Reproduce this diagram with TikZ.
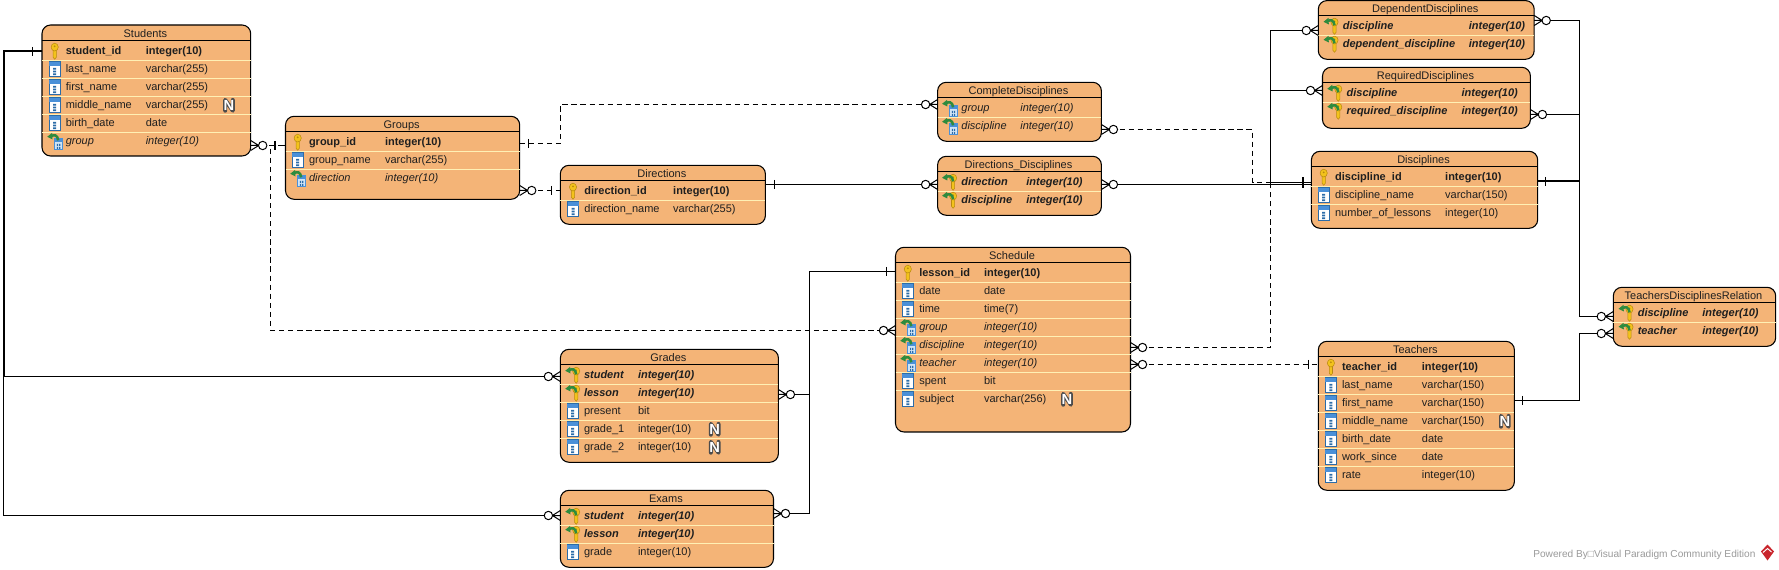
\documentclass[tikz,border=0pt]{standalone}
\usepackage{fontspec}
\setmainfont{Liberation Sans}
\usetikzlibrary{calc}
\definecolor{tfill}{HTML}{F4B477}
\definecolor{tsep}{HTML}{FFF0B4}
\definecolor{keyy}{HTML}{F3C21C}
\definecolor{keydk}{HTML}{B98A10}
\definecolor{colblue}{HTML}{4A90D8}
\definecolor{coldk}{HTML}{2C6CA8}
\definecolor{fkgreen}{HTML}{2E8B3E}
\definecolor{bldg}{HTML}{CFE4F6}
\definecolor{foot}{HTML}{9A9A9A}
\definecolor{logored}{HTML}{C9252C}
\tikzset{
  tbox/.style={draw=black,fill=tfill,line width=.8pt,rounded corners=6.5pt,inner sep=0pt,outer sep=0pt},
  ttext/.style={inner sep=0pt,outer sep=0pt,font=\fontsize{8.25}{10}\selectfont,text=black!88},
  sepline/.style={draw=tsep,line width=.75pt},
  headline/.style={draw=black,line width=.75pt},
  conn/.style={draw=black,line width=.75pt},
  heavy/.style={draw=black,line width=1.5pt},
  dashconn/.style={draw=black,line width=.75pt,dash pattern=on 4pt off 2.8pt},
}
\newcommand\stpk{\bfseries}
\newcommand\stcol{}
\newcommand\stfk{\itshape}
\newcommand\stpfk{\bfseries\itshape}
\newcommand\keyshape{%
  \draw[keydk,fill=keyy,line width=.4pt] (-1.6,-2) -- (-1.6,6) -- (0,8) -- (1.6,6) -- (1.6,-2) -- cycle;
  \draw[keydk,fill=keyy,line width=.4pt] (0,-4.2) ellipse[x radius=3.6,y radius=3.9];
  \fill[keydk] (0,-5) circle[radius=1];
}
\newcommand\greenarrow{%
  \draw[fkgreen,line width=1.9pt] (3.5,-1) .. controls (3,-6.5) and (-1,-7) .. (-3.5,-5);
  \fill[fkgreen] (-7.5,-4.5) -- (-2.5,-8.5) -- (-2.2,-1.8) -- cycle;
}
\newcommand\iconpk[2]{\begin{scope}[shift={(#1,#2)}]\keyshape\end{scope}}
\newcommand\iconcol[2]{\begin{scope}[shift={(#1,#2)}]
  \draw[coldk,fill=white,line width=.5pt] (-5.5,-7.5) rectangle (5.5,7.5);
  \fill[colblue] (-5.5,-7.5) rectangle (5.5,-3.2);
  \fill[coldk] (-1.5,-1.5) rectangle (1.5,.3) (-1.5,1.3) rectangle (1.5,3) (-1.5,4) rectangle (1.5,5.8);
\end{scope}}
\newcommand\iconfk[2]{\begin{scope}[shift={(#1,#2)}]
  \draw[colblue,fill=bldg,line width=.5pt] (-.4,-2.5) rectangle (7.8,8.5);
  \fill[colblue] (-.4,-2.5) rectangle (7.8,.5);
  \fill[coldk] (2.2,2.5) rectangle (3.4,4.5) (4.4,2.5) rectangle (5.6,4.5) (2.2,5.5) rectangle (3.4,7.5) (4.4,5.5) rectangle (5.6,7.5);
  \greenarrow
\end{scope}}
\newcommand\iconpfk[2]{\begin{scope}[shift={(#1,#2)}]
  \begin{scope}[shift={(3.5,0)}]\keyshape\end{scope}
  \greenarrow
\end{scope}}
% #1 name, #2 title, #3 x1, #4 y1, #5 x2, #6 y2, #7 header line y
\newcommand\tbl[7]{%
  \pgfmathsetmacro\tw{(#5-#3)*.75}\pgfmathsetmacro\th{(#6-#4)*.75}
  \node[tbox,minimum width=\tw pt,minimum height=\th pt] (#1) at ({(#3+#5)/2},{(#4+#6)/2}) {};
  \draw[headline] (#1.west |- 0,#7) -- (#1.east |- 0,#7);
  \node[ttext,anchor=base] (#1-title) at ({(#3+#5)/2-1},#7-3.2) {#2};
}
% #1 table, #2 icon x, #3 name x, #4 type x, #5 first row y, #6 rows
\newcommand\rows[6]{%
  \foreach \ic/\nm/\ty [count=\i] in {#6} {
    \pgfmathsetmacro\ry{#5+18*(\i-1)}
    \ifnum\i>1 \draw[sepline] (#1.west |- 0,\ry-9) -- (#1.east |- 0,\ry-9);\fi
    \csname icon\ic\endcsname{#2}{\ry}
    \node[ttext,anchor=base west,font=\fontsize{8.25}{10}\selectfont\csname st\ic\endcsname] (#1-n\i) at (#3,\ry+3.4) {\nm};
    \node[ttext,anchor=base west,font=\fontsize{8.25}{10}\selectfont\csname st\ic\endcsname] (#1-t\i) at (#4,\ry+3.4) {\ty};
  }%
}
% #1 node name, #2 x, #3 y
\newcommand\nullmark[3]{%
  \begin{scope}[shift={(#2,#3)}]
  \draw[black!70,line width=3pt,line cap=round,line join=round] (-3.8,5.4) -- (-3.8,-5.4) -- (3.8,5.4) -- (3.8,-5.4);
  \end{scope}
  \node[ttext,font=\fontsize{11}{12}\selectfont\bfseries,text=white] (#1) at (#2,#3) {N};
}
% crow's foot with ring: #1 point on the table edge, #2 direction +1/-1
\newcommand\crow[2]{%
  \draw[conn] ($(#1)+(#2*8,0)$) -- ($(#1)+(0,-5)$) ($(#1)+(#2*8,0)$) -- (#1) ($(#1)+(#2*8,0)$) -- ($(#1)+(0,5)$);
  \draw[conn,fill=white] ($(#1)+(#2*12,0)$) circle[radius=4.2];
}
% bar: #1 point on the table edge, #2 signed distance
\newcommand\onebar[2]{\draw[conn] ($(#1)+(#2,-4.6)$) -- ($(#1)+(#2,4.6)$);}
\begin{document}
\begin{tikzpicture}[x=.75pt,y=-.75pt]
\useasboundingbox (0,0) rectangle (1779,570);
\fill[white] (0,0) rectangle (1779,570);

% ---------- tables
\tbl{Students}{Students}{42}{25}{250.7}{156}{40.7}
\rows{Students}{54.7}{65.8}{145.8}{51.3}{pk/student\_id/integer(10),col/last\_name/varchar(255),col/first\_name/varchar(255),col/middle\_name/varchar(255),col/birth\_date/date,fk/group/integer(10)}
\nullmark{Students-null}{229}{105.3}

\tbl{Groups}{Groups}{285.5}{116.3}{519.7}{199.3}{131.7}
\rows{Groups}{297.7}{309}{385}{142.3}{pk/group\_id/integer(10),col/group\_name/varchar(255),fk/direction/integer(10)}

\tbl{Directions}{Directions}{560.3}{165.3}{765.4}{224.3}{180.3}
\rows{Directions}{573}{584.4}{673.2}{191.3}{pk/direction\_id/integer(10),col/direction\_name/varchar(255)}

\tbl{CompleteDisciplines}{CompleteDisciplines}{937.6}{82.3}{1101.4}{141.3}{97.3}
\rows{CompleteDisciplines}{949.6}{961.4}{1020.3}{108.3}{fk/group/integer(10),fk/discipline/integer(10)}

\tbl{DirectionsDisciplines}{Directions\_Disciplines}{937.6}{156.3}{1101.4}{215.3}{171.3}
\rows{DirectionsDisciplines}{949.6}{961.4}{1026.4}{182.3}{pfk/direction/integer(10),pfk/discipline/integer(10)}

\tbl{Schedule}{Schedule}{895.5}{247.3}{1130.5}{432}{262.3}
\rows{Schedule}{907.8}{919.3}{984}{273.3}{pk/lesson\_id/integer(10),col/date/date,col/time/time(7),fk/group/integer(10),fk/discipline/integer(10),fk/teacher/integer(10),col/spent/bit,col/subject/varchar(256)}
\nullmark{Schedule-null}{1067}{399.3}

\tbl{Grades}{Grades}{560.4}{349.3}{778.4}{462.3}{364.3}
\rows{Grades}{572.7}{584}{638}{375.3}{pfk/student/integer(10),pfk/lesson/integer(10),col/present/bit,col/grade\_1/integer(10),col/grade\_2/integer(10)}
\nullmark{Grades-null1}{714.7}{429.3}
\nullmark{Grades-null2}{714.7}{447.3}

\tbl{Exams}{Exams}{560.4}{490.3}{773.5}{567.3}{505.3}
\rows{Exams}{572.7}{584}{638}{516.3}{pfk/student/integer(10),pfk/lesson/integer(10),col/grade/integer(10)}

\tbl{DependentDisciplines}{DependentDisciplines}{1318.3}{.6}{1534.2}{59.3}{15.3}
\rows{DependentDisciplines}{1331}{1342.8}{1468.9}{26.3}{pfk/discipline/integer(10),pfk/dependent\_discipline/integer(10)}

\tbl{RequiredDisciplines}{RequiredDisciplines}{1322.5}{67.3}{1530.4}{128.3}{82.3}
\rows{RequiredDisciplines}{1334.8}{1346.6}{1461.6}{93.3}{pfk/discipline/integer(10),pfk/required\_discipline/integer(10)}

\tbl{Disciplines}{Disciplines}{1311.4}{151.3}{1537.7}{228.3}{166.3}
\rows{Disciplines}{1323.7}{1335.1}{1445.2}{177.3}{pk/discipline\_id/integer(10),col/discipline\_name/varchar(150),col/number\_of\_lessons/integer(10)}

\tbl{Teachers}{Teachers}{1318.3}{341.3}{1514.4}{490.3}{356.3}
\rows{Teachers}{1330.9}{1342}{1421.9}{367.3}{pk/teacher\_id/integer(10),col/last\_name/varchar(150),col/first\_name/varchar(150),col/middle\_name/varchar(150),col/birth\_date/date,col/work\_since/date,col/rate/integer(10)}
\nullmark{Teachers-null}{1504.8}{421.3}

\tbl{TeachersDisciplinesRelation}{TeachersDisciplinesRelation}{1613.3}{287.3}{1775.7}{346.3}{302.3}
\rows{TeachersDisciplinesRelation}{1626}{1637.8}{1702.4}{313.3}{pfk/discipline/integer(10),pfk/teacher/integer(10)}

% ---------- connectors
\coordinate (leftbus) at (3.5,376.5);
\coordinate (lessonbus) at (809.5,394.5);
\coordinate (discbusL) at (1270.5,182.5);
\coordinate (discbusR) at (1579.5,181.5);
\coordinate (groupdrop) at (270.5,330.5);

\draw[heavy] (Students.west |- 0,51.5) -| (leftbus);
\draw[conn] (leftbus) -- (Grades.west |- 0,376.5);
\draw[conn] (leftbus) |- (Exams.west |- 0,515.5);

\draw[dashconn] (Students.east |- 0,145.5) -- (Groups.west |- 0,145.5);
\draw[dashconn] (Groups.west |- 0,145.5) -| (groupdrop) -- (Schedule.west |- groupdrop);
\draw[dashconn] (Groups.east |- 0,143.5) -| (560.5,104.5) -- (CompleteDisciplines.west |- 0,104.5);
\draw[dashconn] (Groups.east |- 0,190.5) -- (Directions.west |- 0,190.5);
\draw[conn] (Directions.east |- 0,184.5) -- (DirectionsDisciplines.west |- 0,184.5);
\draw[dashconn] (CompleteDisciplines.east |- 0,129.5) -| (1252.5,182.5) -- (Disciplines.west |- 0,182.5);
\draw[conn] (DirectionsDisciplines.east |- 0,184.5) -- (Disciplines.west |- 0,184.5);
\draw[conn] (DependentDisciplines.west |- 0,30.5) -| (discbusL) -- (Disciplines.west |- discbusL);
\draw[conn] (RequiredDisciplines.west |- 0,90.5) -- (discbusL |- 0,90.5);
\draw[dashconn] (Schedule.east |- 0,347.5) -| (discbusL);
\draw[dashconn] (Schedule.east |- 0,364.5) -- (Teachers.west |- 0,364.5);
\draw[conn] (DependentDisciplines.east |- 0,20.5) -| (discbusR);
\draw[conn] (RequiredDisciplines.east |- 0,114.5) -| (discbusR);
\draw[heavy] (Disciplines.east |- discbusR) -- (discbusR);
\draw[conn] (discbusR) |- (TeachersDisciplinesRelation.west |- 0,316.5);
\draw[conn] (Teachers.east |- 0,400.5) -| (1579.5,333.5) -- (TeachersDisciplinesRelation.west |- 0,333.5);
\draw[conn] (Schedule.west |- 0,271.5) -| (lessonbus) -- (Grades.east |- lessonbus);
\draw[conn] (lessonbus) |- (Exams.east |- 0,513.5);

% ---------- cardinality marks
\onebar{Students.west |- 0,51.5}{-9.5}
\crow{Students.east |- 0,145.5}{1}
\draw[heavy] ($(Groups.west |- 0,145.5)+(-10.7,-4.6)$) -- ($(Groups.west |- 0,145.5)+(-10.7,4.6)$);
\onebar{Groups.east |- 0,143.5}{8.5}
\crow{Groups.east |- 0,190.5}{1}
\onebar{Directions.west |- 0,190.5}{-8.5}
\crow{Schedule.west |- groupdrop}{-1}
\crow{CompleteDisciplines.west |- 0,104.5}{-1}
\onebar{Directions.east |- 0,184.5}{9.5}
\crow{DirectionsDisciplines.west |- 0,184.5}{-1}
\crow{CompleteDisciplines.east |- 0,129.5}{1}
\crow{DirectionsDisciplines.east |- 0,184.5}{1}
\draw[heavy] ($(Disciplines.west |- 0,183)+(-8.3,-5.5)$) -- ($(Disciplines.west |- 0,183)+(-8.3,5.5)$);
\crow{DependentDisciplines.west |- 0,30.5}{-1}
\crow{RequiredDisciplines.west |- 0,90.5}{-1}
\crow{Schedule.east |- 0,347.5}{1}
\crow{Schedule.east |- 0,364.5}{1}
\onebar{Teachers.west |- 0,364.5}{-10}
\crow{DependentDisciplines.east |- 0,20.5}{1}
\crow{RequiredDisciplines.east |- 0,114.5}{1}
\onebar{Disciplines.east |- discbusR}{7.7}
\crow{TeachersDisciplinesRelation.west |- 0,316.5}{-1}
\crow{TeachersDisciplinesRelation.west |- 0,333.5}{-1}
\onebar{Teachers.east |- 0,400.5}{8}
\onebar{Schedule.west |- 0,271.5}{-9.5}
\crow{Grades.west |- 0,376.5}{-1}
\crow{Exams.west |- 0,515.5}{-1}
\crow{Grades.east |- lessonbus}{1}
\crow{Exams.east |- 0,513.5}{1}

% ---------- footer
\node[ttext,anchor=base east,text=foot,font=\fontsize{7.6}{10}\selectfont] (powered) at (1755.5,557) {Powered By□Visual Paradigm Community Edition};
\fill[logored] (1767.5,544.5) -- (1774,551.5) -- (1767.5,560.5) -- (1761,551.5) -- cycle;
\draw[white,line width=.7pt] (1763,552.5) -- (1767.5,548.5) -- (1771.5,552);
\end{tikzpicture}
\end{document}
